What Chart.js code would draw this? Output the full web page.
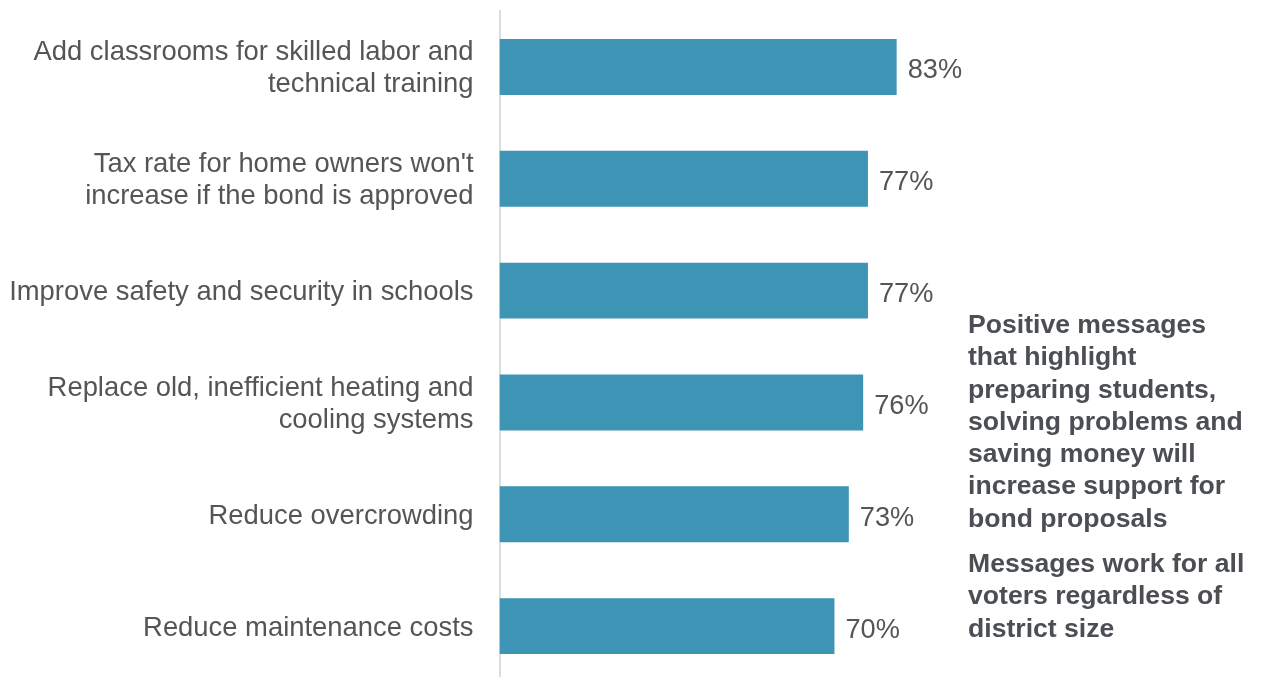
<!DOCTYPE html>
<html>
<head>
<meta charset="utf-8">
<script src="https://cdn.jsdelivr.net/npm/chart.js@4"></script>
<style>
  html, body { margin: 0; padding: 0; background: #fff; overflow: hidden; }
  #wrap { position: relative; width: 1265px; height: 682px; }
  #note {
    position: absolute; left: 968px; top: 308px; width: 297px;
    font-family: "Liberation Sans", Arial, sans-serif; font-weight: bold;
    font-size: 26.6px; line-height: 32.3px; color: #4b4e53;
  }
  #note p { margin: 0 0 13px 0; white-space: nowrap; }
</style>
</head>
<body>
<div id="wrap">
  <canvas id="BarChart"></canvas>
  <div id="note">
    <p>Positive messages<br>that highlight<br>preparing students,<br>solving problems and<br>saving money will<br>increase support for<br>bond proposals</p>
    <p>Messages work for all<br>voters regardless of<br>district size</p>
  </div>
</div>
<script>
const categories = [
    ['Add classrooms for skilled labor and', 'technical training'],
    ["Tax rate for home owners won't", 'increase if the bond is approved'],
    'Improve safety and security in schools',
    ['Replace old, inefficient heating and', 'cooling systems'],
    'Reduce overcrowding',
    'Reduce maintenance costs'
];
const support = [83, 77, 77, 76, 73, 70];

const labelFont = '"Liberation Sans", Arial, sans-serif';

// value labels at the end of each bar
const valueLabels = {
    id: 'valueLabels',
    afterDatasetsDraw(chart) {
        const ctx = chart.ctx;
        const meta = chart.getDatasetMeta(0);
        ctx.save();
        ctx.font = '27.2px ' + labelFont;
        ctx.fillStyle = '#555';
        ctx.textBaseline = 'middle';
        meta.data.forEach((bar, i) => {
            ctx.fillText(support[i] + '%', bar.x + 11, bar.y + 4);
        });
        ctx.restore();
    }
};

const ctx = document.getElementById('BarChart').getContext('2d');
const barChart = new Chart(ctx, {
    type: 'bar',
    data: {
        labels: categories,
        datasets: [{
            data: support,
            backgroundColor: '#3d94b4',
            borderWidth: 0,
            barPercentage: 0.5,
            categoryPercentage: 1
        }]
    },
    options: {
        indexAxis: 'y',
        responsive: true,
        maintainAspectRatio: false,
        animation: false,
        layout: { padding: { top: 11, bottom: 0, left: 0, right: 287 } },
        plugins: {
            legend: { display: false },
            tooltip: { enabled: false }
        },
        scales: {
            x: {
                display: false,
                min: 0,
                max: 100
            },
            y: {
                afterFit(scale) {
                    scale.width = 499.5;
                    scale.paddingTop = 0;
                    scale.paddingBottom = 0;
                },
                grid: { display: false, drawTicks: false },
                border: { display: true, color: '#dcdcdc', width: 2 },
                ticks: {
                    padding: 26,
                    labelOffset: 2,
                    color: '#555',
                    font: { family: labelFont, size: 27.4, lineHeight: 1.168 }
                }
            }
        }
    },
    plugins: [valueLabels]
});
</script>
</body>
</html>
